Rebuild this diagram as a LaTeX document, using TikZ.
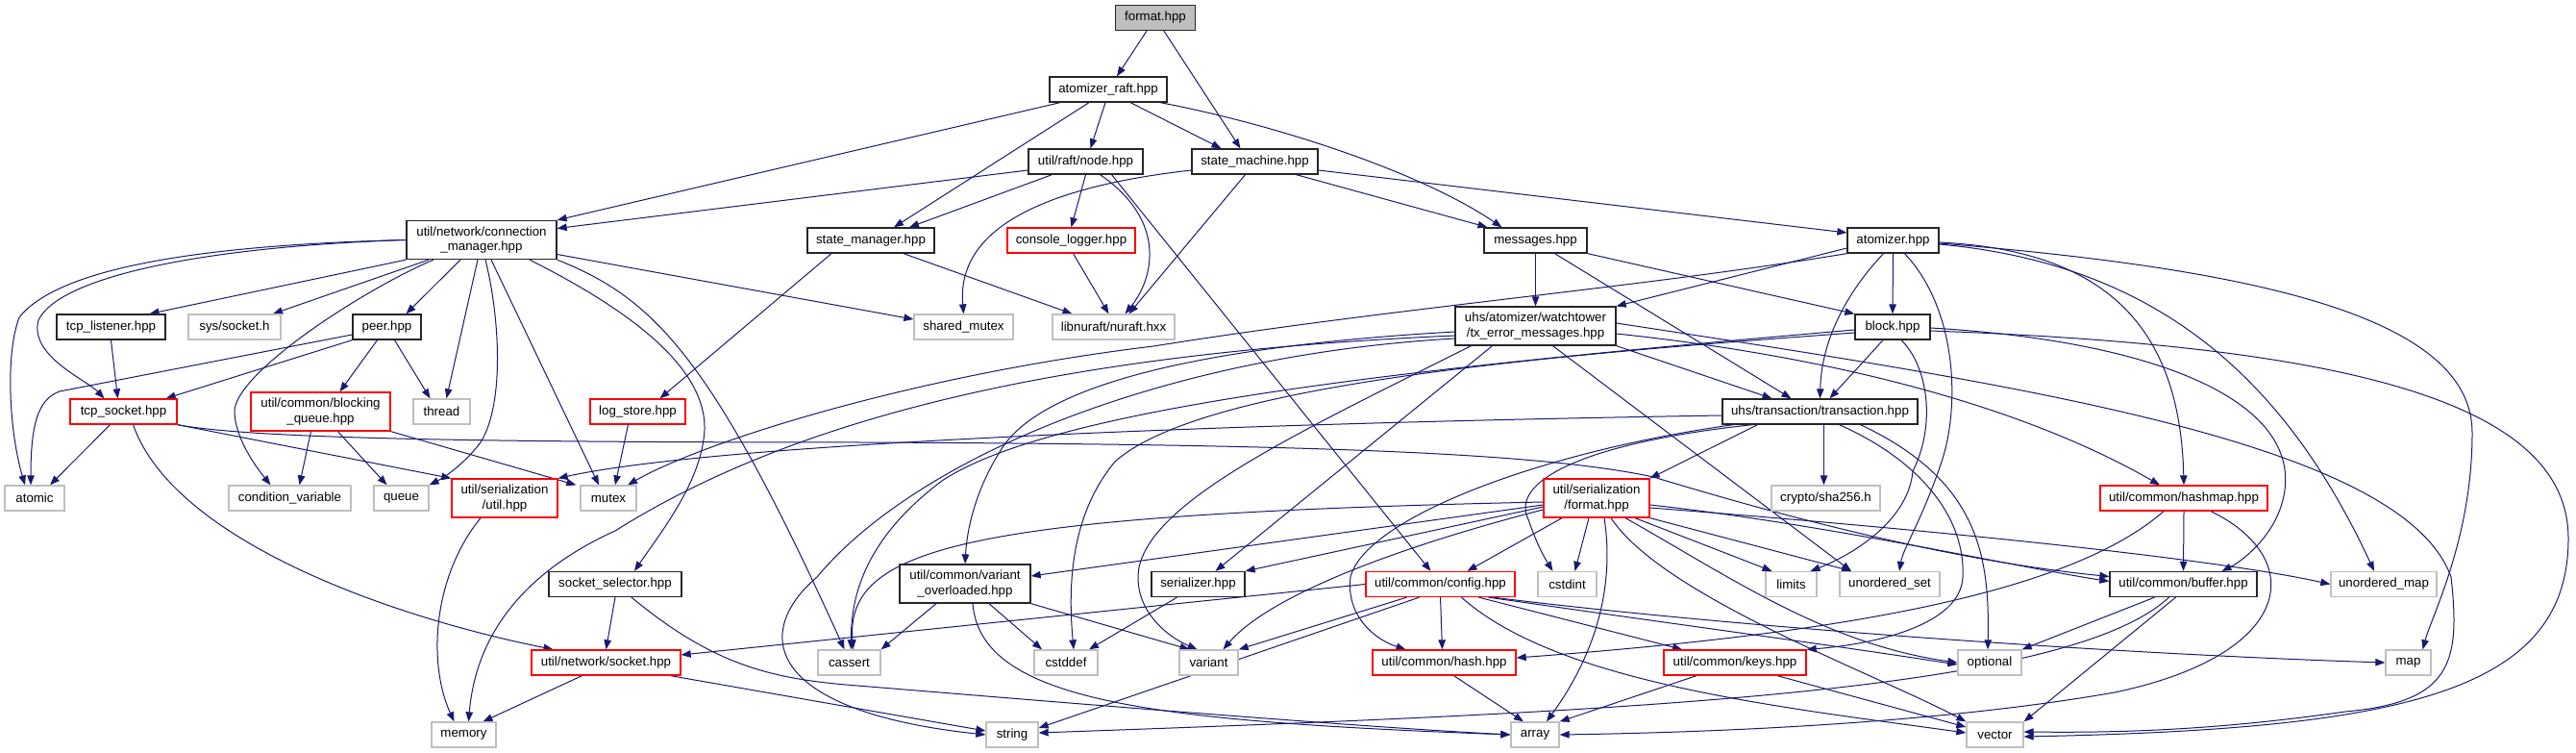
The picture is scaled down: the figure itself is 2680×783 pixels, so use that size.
\documentclass[tikz,border=0pt]{standalone}
\usepackage{fontspec}
\setmainfont{Liberation Sans}
\usetikzlibrary{arrows.meta}
\definecolor{edgec}{HTML}{191970}
\definecolor{sysc}{HTML}{BFBFBF}
\definecolor{redc}{HTML}{FF0000}
\pgfdeclarelayer{bg}
\pgfdeclarelayer{edges}
\pgfsetlayers{bg,edges,main}
\tikzset{
  bx/.style={rectangle, inner sep=0pt, minimum height=26pt, align=center, line width=1.3pt, font=\fontsize{13.3}{15.5}\selectfont, text=black, fill=white},
  docbox/.style={bx, draw=black!85},
  redbox/.style={bx, draw=redc},
  sysbox/.style={bx, draw=sysc},
  rootbox/.style={bx, draw=black!85, fill=sysc},
  twol/.style={minimum height=40pt},
  ar/.style={draw=edgec, line width=1pt, -{Triangle[length=10pt,width=7.5pt]}},
}
\begin{document}
\begin{tikzpicture}[x=1pt,y=-1pt]
\begin{pgfonlayer}{bg}
\fill[white] (0,0) rectangle (2680,783);
\end{pgfonlayer}
\path[use as bounding box] (0,0) rectangle (2680,783);
% nodes
\node[rootbox, minimum width=83pt] (root) at (1202,18.5) {format.hpp};
\node[docbox, minimum width=122pt] (araft) at (1153,93) {atomizer\_raft.hpp};
\node[docbox, minimum width=119pt] (rnode) at (1129.5,168) {util/raft/node.hpp};
\node[docbox, minimum width=131pt] (smach) at (1305.5,168) {state\_machine.hpp};
\node[docbox, twol, minimum width=156pt] (cm) at (501,249.5) {util/network/connection\\\_manager.hpp};
\node[docbox, minimum width=132pt] (smgr) at (906,250) {state\_manager.hpp};
\node[redbox, minimum width=133pt] (clog) at (1114.5,250) {console\_logger.hpp};
\node[docbox, minimum width=107pt] (msgs) at (1597.5,250) {messages.hpp};
\node[docbox, minimum width=95pt] (atz) at (1969.5,250) {atomizer.hpp};
\node[docbox, minimum width=113pt] (tcpl) at (115.5,340) {tcp\_listener.hpp};
\node[sysbox, minimum width=96pt] (syss) at (244,340) {sys/socket.h};
\node[docbox, minimum width=71pt] (peer) at (402.5,340) {peer.hpp};
\node[sysbox, minimum width=103pt] (shm) at (1002.5,340) {shared\_mutex};
\node[sysbox, minimum width=127pt] (nuraft) at (1158.5,340) {libnuraft/nuraft.hxx};
\node[docbox, twol, minimum width=167pt] (txerr) at (1597.5,339) {uhs/atomizer/watchtower\\/tx\_error\_messages.hpp};
\node[docbox, minimum width=78pt] (block) at (1969,340) {block.hpp};
\node[redbox, minimum width=111pt] (tcps) at (128.5,428) {tcp\_socket.hpp};
\node[redbox, twol, minimum width=145pt] (bq) at (333.5,428) {util/common/blocking\\\_queue.hpp};
\node[sysbox, minimum width=59pt] (thread) at (459.5,428) {thread};
\node[redbox, minimum width=99pt] (logst) at (663.5,428) {log\_store.hpp};
\node[docbox, minimum width=203pt] (trans) at (1893.5,428) {uhs/transaction/transaction.hpp};
\node[sysbox, minimum width=62pt] (atomic) at (36,518) {atomic};
\node[sysbox, minimum width=127pt] (condv) at (301.5,518) {condition\_variable};
\node[sysbox, minimum width=57pt] (queue) at (417.5,518) {queue};
\node[redbox, twol, minimum width=110pt] (sutil) at (525,518) {util/serialization\\/util.hpp};
\node[sysbox, minimum width=58pt] (mutex) at (633,518) {mutex};
\node[redbox, twol, minimum width=110pt] (sfmt) at (1661,518) {util/serialization\\/format.hpp};
\node[sysbox, minimum width=113pt] (sha) at (1899.5,518) {crypto/sha256.h};
\node[redbox, minimum width=174pt] (hashmap) at (2272,518) {util/common/hashmap.hpp};
\node[docbox, minimum width=138pt] (ssel) at (640,607.5) {socket\_selector.hpp};
\node[docbox, twol, minimum width=136pt] (varov) at (1004,607) {util/common/variant\\\_overloaded.hpp};
\node[docbox, minimum width=97pt] (serial) at (1246.5,607.5) {serializer.hpp};
\node[redbox, minimum width=155pt] (config) at (1498.5,607.5) {util/common/config.hpp};
\node[sysbox, minimum width=61pt] (cstdint) at (1630.5,607.5) {cstdint};
\node[sysbox, minimum width=53pt] (limits) at (1863.5,607.5) {limits};
\node[sysbox, minimum width=104pt] (unset) at (1966,607.5) {unordered\_set};
\node[docbox, minimum width=153pt] (buffer) at (2271.5,607.5) {util/common/buffer.hpp};
\node[sysbox, minimum width=110pt] (unmap) at (2480,607.5) {unordered\_map};
\node[redbox, minimum width=155pt] (socket) at (630.5,689) {util/network/socket.hpp};
\node[sysbox, minimum width=65pt] (cassert) at (883.5,689) {cassert};
\node[sysbox, minimum width=66pt] (cstddef) at (1109,689) {cstddef};
\node[sysbox, minimum width=61pt] (variant) at (1257.5,689) {variant};
\node[redbox, minimum width=149pt] (hash) at (1502.5,689) {util/common/hash.hpp};
\node[redbox, minimum width=148pt] (keys) at (1805,689) {util/common/keys.hpp};
\node[sysbox, minimum width=66pt] (optional) at (2070,689) {optional};
\node[sysbox, minimum width=47pt] (map) at (2505.5,689) {map};
\node[sysbox, minimum width=67pt] (memory) at (482.5,764) {memory};
\node[sysbox, minimum width=54pt] (string) at (1053,764) {string};
\node[sysbox, minimum width=50pt] (array) at (1597,764) {array};
\node[sysbox, minimum width=59pt] (vector) at (2075.5,764) {vector};
\begin{pgfonlayer}{edges}
% edges: top part
\draw[ar] (root) -- (araft);
\draw[ar] (root) -- ([xshift=-15pt]smach.north);
\draw[ar] ([xshift=-50pt]araft.south) -- (cm.north east);
\draw[ar] ([xshift=-3pt]araft.south) -- ([xshift=5pt]rnode.north);
\draw[ar] ([xshift=23pt]araft.south) -- ([xshift=-35pt]smach.north);
\draw[ar] ([xshift=-20pt]araft.south) -- ([xshift=24pt]smgr.north);
\draw[ar] ([xshift=54pt]araft.south) .. controls (1330,130) and (1480,180) .. ([xshift=-35pt]msgs.north);
\draw[ar] ([yshift=-9pt]rnode.west) -- ([yshift=12pt]cm.east);
\draw[ar] ([xshift=-35pt]rnode.south) -- ([xshift=40pt]smgr.north);
\draw[ar] (rnode.south) -- (clog.north);
\draw[ar] ([xshift=15pt]rnode.south) .. controls (1215,230) and (1200,290) .. ([xshift=12pt]nuraft.north);
\draw[ar] ([xshift=27pt]rnode.south) -- ([xshift=-10pt]config.north);
\draw[ar] ([yshift=-9pt]smach.west) .. controls (1080,195) and (995,240) .. (shm.north);
\draw[ar] ([xshift=-10pt]smach.south) -- ([xshift=16pt]nuraft.north);
\draw[ar] ([xshift=43pt]smach.south) -- ([xshift=-50pt]msgs.north);
\draw[ar] ([yshift=-9pt]smach.east) -- ([yshift=8pt]atz.west);
\draw[ar] ([xshift=-41pt]smgr.south) -- ([xshift=23pt]logst.north);
\draw[ar] ([xshift=34pt]smgr.south) -- ([xshift=-43pt]nuraft.north);
\draw[ar] ([xshift=2pt]clog.south) -- ([xshift=-5pt]nuraft.north);
\draw[ar] (msgs.south) -- (txerr.north);
\draw[ar] ([xshift=20pt]msgs.south) -- ([xshift=-30pt]trans.north);
\draw[ar] (msgs.south east) -- (block.north west);
% atomizer
\draw[ar] (atz.south) -- (block.north);
\draw[ar] ([yshift=-8pt]atz.west) -- (txerr.north east);
\draw[ar] ([xshift=-10pt]atz.south) .. controls (1925,300) and (1895,350) .. (trans.north);
\draw[ar] (atz.south west) .. controls (1700,300) and (1450,320) .. (1200,360) .. controls (950,390) and (730,460) .. ([xshift=20pt]mutex.north);
\draw[ar] ([xshift=12pt]atz.south) .. controls (2035,320) and (2040,420) .. (2020,480) .. controls (2000,540) and (1980,570) .. ([xshift=10pt]unset.north);
\draw[ar] ([yshift=-2pt]atz.east) .. controls (2180,260) and (2268,330) .. (hashmap.north);
\draw[ar] ([yshift=-4pt]atz.east) .. controls (2250,275) and (2380,400) .. ([xshift=-10pt]unmap.north);
\draw[ar] ([yshift=-3pt]atz.east) .. controls (2350,280) and (2572,330) .. (2572,450) .. controls (2572,560) and (2530,640) .. ([xshift=15pt]map.north);
% connection manager
\draw[ar] (cm.west) .. controls (200,255) and (60,280) .. (20,330) .. controls (5,370) and (10,450) .. ([xshift=-10pt]atomic.north);
\draw[ar] (cm.west) .. controls (200,257) and (60,290) .. (40,333) .. controls (30,370) and (90,395) .. ([xshift=-20pt]tcps.north);
\draw[ar] (cm.south west) -- ([xshift=40pt]tcpl.north);
\draw[ar] ([xshift=-55pt]cm.south) -- ([xshift=40pt]syss.north);
\draw[ar] ([xshift=-50pt]cm.south) .. controls (380,300) and (240,390) .. (244,430) .. controls (246,460) and (270,490) .. ([xshift=-20pt]condv.north);
\draw[ar] ([xshift=-22pt]cm.south) -- ([xshift=20pt]peer.north);
\draw[ar] ([xshift=-4pt]cm.south) -- ([xshift=5pt]thread.north);
\draw[ar] ([xshift=4pt]cm.south) .. controls (520,330) and (525,420) .. (500,460) .. controls (485,480) and (465,495) .. (queue.north east);
\draw[ar] ([xshift=10pt]cm.south) -- ([xshift=-10pt]mutex.north);
\draw[ar] ([xshift=50pt]cm.south) .. controls (650,320) and (735,380) .. (733,447) .. controls (730,500) and (690,550) .. ([xshift=20pt]ssel.north);
\draw[ar] (cm.south east) .. controls (680,310) and (740,370) .. ([xshift=-5pt]cassert.north);
\draw[ar] ([yshift=-15pt]cm.east) -- ([yshift=8pt]shm.west);
% left cluster
\draw[ar] (tcpl.south) -- ([xshift=-6pt]tcps.north);
\draw[ar] ([yshift=-8pt]peer.west) -- (62,407) .. controls (40,415) and (32,440) .. ([xshift=-4pt]atomic.north);
\draw[ar] (peer.south west) -- ([xshift=-12pt]tcps.north east);
\draw[ar] ([xshift=-10pt]peer.south) -- ([xshift=20pt]bq.north);
\draw[ar] ([xshift=8pt]peer.south) -- ([xshift=-12pt]thread.north);
\draw[ar] ([xshift=-14pt]tcps.south) -- ([xshift=16pt]atomic.north);
\draw[ar] (tcps.south east) -- (sutil.north west);
\draw[ar] ([xshift=10pt]tcps.south) .. controls (180,560) and (400,640) .. ([xshift=-55pt]socket.north);
\draw[ar] (tcps.south east) .. controls (260,456) and (500,460) .. (900,460) .. controls (1350,462) and (1600,470) .. (1720,496) .. controls (1800,520) and (2000,580) .. ([yshift=8pt]buffer.west);
\draw[ar] ([xshift=-10pt]bq.south) -- ([xshift=10pt]condv.north);
\draw[ar] ([xshift=18pt]bq.south) -- ([xshift=-15pt]queue.north);
\draw[ar] (bq.south east) -- ([xshift=-4pt]mutex.north west);
\draw[ar] ([xshift=-10pt]logst.south) -- ([xshift=7pt]mutex.north);
\draw[ar] ([xshift=-25pt]sutil.south) .. controls (450,600) and (445,690) .. ([xshift=-10pt]memory.north);
\draw[ar] (ssel.south) -- (socket.north);
\draw[ar] ([xshift=17pt]ssel.south) .. controls (740,690) and (800,705) .. (880,712) .. controls (1100,730) and (1400,755) .. (array.west);
\draw[ar] ([xshift=-25pt]socket.south) -- ([xshift=20pt]memory.north);
\draw[ar] ([xshift=67pt]socket.south) -- ([yshift=4pt]string.west);
% tx_error_messages
\draw[ar] (txerr.south east) -- ([xshift=-50pt]trans.north);
\draw[ar] ([xshift=-45pt]txerr.south) -- ([xshift=18pt]serial.north);
\draw[ar] ([xshift=-67pt]txerr.south) .. controls (1350,450) and (1200,520) .. (1185,590) .. controls (1178,630) and (1210,660) .. ([xshift=-12pt]variant.north);
\draw[ar] ([xshift=18pt]txerr.south) -- ([xshift=-40pt]unset.north);
\draw[ar] ([yshift=-6pt]txerr.west) .. controls (1250,360) and (1080,400) .. (1040,470) .. controls (1015,510) and (1006,550) .. (varov.north);
\draw[ar] ([yshift=-10pt]txerr.west) .. controls (1150,365) and (850,420) .. (640,552) .. controls (545,595) and (495,660) .. ([xshift=5pt]memory.north);
\draw[ar] ([yshift=-13pt]txerr.west) .. controls (1200,370) and (950,480) .. (850,600) .. controls (780,660) and (800,740) .. (string.west);
\draw[ar] ([yshift=3pt]txerr.east) .. controls (2100,400) and (2500,460) .. (2550,600) .. controls (2560,690) and (2550,730) .. (2440,740) .. controls (2300,760) and (2200,762) .. ([yshift=3pt]vector.east);
\draw[ar] ([yshift=-8pt]txerr.east) .. controls (1900,370) and (2100,420) .. ([xshift=-25pt]hashmap.north);
% block
\draw[ar] ([xshift=-10pt]block.south) -- ([xshift=10pt]trans.north);
\draw[ar] ([xshift=9pt]block.south) .. controls (2005,380) and (2015,440) .. (1990,490) .. controls (1985,545) and (1920,580) .. ([xshift=20pt]limits.north);
\draw[ar] ([yshift=-1pt]block.east) .. controls (2250,355) and (2400,420) .. (2375,520) .. controls (2365,560) and (2330,585) .. ([xshift=40pt]buffer.north);
\draw[ar] ([yshift=-4pt]block.east) .. controls (2450,360) and (2672,420) .. (2672,560) .. controls (2672,720) and (2500,758) .. ([yshift=-2pt]vector.east);
\draw[ar] ([yshift=-3pt]block.west) .. controls (1500,380) and (1100,420) .. (980,500) .. controls (900,560) and (885,620) .. ([xshift=2pt]cassert.north);
\draw[ar] ([yshift=-6pt]block.west) .. controls (1600,370) and (1250,400) .. (1160,480) .. controls (1110,540) and (1112,620) .. ([xshift=8pt]cstddef.north);
% transaction
\draw[ar] ([xshift=-65pt]trans.south) -- (sfmt.north east);
\draw[ar] ([xshift=4pt]trans.south) -- ([xshift=-2pt]sha.north);
\draw[ar] ([yshift=-4pt]trans.west) .. controls (1300,440) and (750,460) .. (sutil.north east);
\draw[ar] ([xshift=-70pt]trans.south) .. controls (1650,460) and (1570,500) .. (1590,540) .. controls (1600,570) and (1610,585) .. ([xshift=-15pt]cstdint.north);
\draw[ar] ([xshift=-90pt]trans.south) .. controls (1600,470) and (1420,540) .. (1405,600) .. controls (1400,640) and (1430,665) .. ([xshift=-40pt]hash.north);
\draw[ar] ([xshift=20pt]trans.south) .. controls (2000,480) and (2045,540) .. (2042,600) .. controls (2040,650) and (1950,670) .. (keys.north east);
\draw[ar] ([xshift=42pt]trans.south) .. controls (2060,500) and (2070,580) .. ([xshift=-2pt]optional.north);
% serialization/format
\draw[ar] ([yshift=-4pt]sfmt.west) .. controls (1000,535) and (880,570) .. ([xshift=4pt]cassert.north);
\draw[ar] ([yshift=-7pt]sfmt.west) -- ([yshift=8pt]varov.east);
\draw[ar] ([yshift=-9pt]sfmt.west) -- (serial.north east);
\draw[ar] ([yshift=-12pt]sfmt.west) .. controls (1450,570) and (1320,620) .. ([xshift=15pt]variant.north);
\draw[ar] ([xshift=-36pt]sfmt.south) -- ([xshift=28pt]config.north);
\draw[ar] ([xshift=-8pt]sfmt.south) -- ([xshift=8pt]cstdint.north);
\draw[ar] ([xshift=8pt]sfmt.south) .. controls (1680,610) and (1660,680) .. ([xshift=12pt]array.north);
\draw[ar] ([xshift=15pt]sfmt.south) .. controls (1730,620) and (1950,700) .. (vector.north west);
\draw[ar] ([xshift=30pt]sfmt.south) .. controls (1800,600) and (1900,670) .. (optional.west);
\draw[ar] ([xshift=40pt]sfmt.south) -- ([xshift=-20pt]limits.north);
\draw[ar] (sfmt.south east) -- ([xshift=-40pt]unset.north);
\draw[ar] ([yshift=-7pt]sfmt.east) .. controls (1900,545) and (2100,590) .. ([yshift=3pt]buffer.west);
\draw[ar] ([yshift=-10pt]sfmt.east) .. controls (2000,550) and (2300,580) .. (unmap.west);
% variant_overloaded, serializer
\draw[ar] ([xshift=-30pt]varov.south) -- (cassert.north east);
\draw[ar] ([xshift=25pt]varov.south) -- ([xshift=-25pt]cstddef.north);
\draw[ar] (varov.south east) -- ([xshift=-20pt]variant.north);
\draw[ar] ([xshift=8pt]varov.south) .. controls (1020,730) and (1200,750) .. (array.west);
\draw[ar] ([xshift=-22pt]serial.south) -- ([xshift=24pt]cstddef.north);
% config
\draw[ar] (config.west) -- ([yshift=8pt]socket.east);
\draw[ar] ([xshift=-35pt]config.south) -- (variant.north east);
\draw[ar] ([xshift=-22pt]config.south) -- ([yshift=7pt]string.east);
\draw[ar] (config.south) -- ([xshift=-2pt]hash.north);
\draw[ar] ([xshift=22pt]config.south) .. controls (1620,710) and (1850,735) .. ([yshift=2pt]vector.west);
\draw[ar] ([xshift=40pt]config.south) -- ([xshift=-55pt]keys.north);
\draw[ar] ([xshift=50pt]config.south) .. controls (1750,650) and (1900,670) .. ([yshift=-2pt]optional.west);
\draw[ar] ([xshift=55pt]config.south) .. controls (1800,652) and (2200,680) .. (map.west);
% hash, keys, hashmap, buffer
\draw[ar] ([xshift=10pt]hash.south) -- ([xshift=-12pt]array.north);
\draw[ar] ([xshift=-40pt]keys.south) -- (array.north east);
\draw[ar] ([xshift=44pt]keys.south) -- ([yshift=8pt]vector.west);
\draw[ar] (hashmap.south) -- (buffer.north);
\draw[ar] ([xshift=-21pt]hashmap.south) .. controls (2150,620) and (1900,660) .. ([yshift=5pt]hash.east);
\draw[ar] ([xshift=28pt]hashmap.south) .. controls (2400,580) and (2390,680) .. (2200,720) .. controls (2000,755) and (1750,762) .. (array.east);
\draw[ar] ([xshift=-30pt]buffer.south) -- (optional.north east);
\draw[ar] ([xshift=-8pt]buffer.south) -- (vector.north east);
\draw[ar] ([xshift=-15pt]buffer.south) .. controls (2150,720) and (1700,740) .. ([yshift=2pt]string.east);
\end{pgfonlayer}
\end{tikzpicture}
\end{document}
